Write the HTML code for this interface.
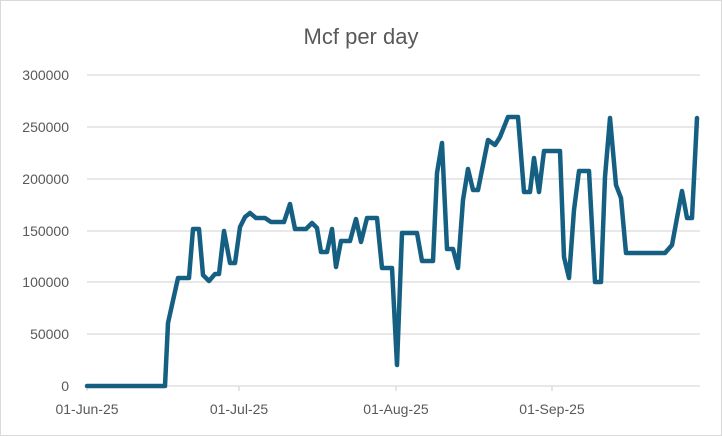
<!DOCTYPE html>
<html><head><meta charset="utf-8"><style>
body{margin:0;background:#fff}
svg{display:block}
text{font-family:"Liberation Sans",sans-serif;fill:#595959}
</style></head><body>
<svg width="722" height="436" viewBox="0 0 722 436">
<rect x="0.5" y="0.5" width="721" height="435" fill="#fff" stroke="#d9d9d9"/>
<text x="361" y="44" font-size="22" text-anchor="middle">Mcf per day</text>
<g stroke="#d9d9d9" stroke-width="1.3">
<line x1="87" x2="700" y1="75" y2="75"/><line x1="87" x2="700" y1="127" y2="127"/>
<line x1="87" x2="700" y1="179" y2="179"/><line x1="87" x2="700" y1="231" y2="231"/>
<line x1="87" x2="700" y1="282" y2="282"/><line x1="87" x2="700" y1="334" y2="334"/>
<line x1="87" x2="700" y1="386" y2="386"/>
<line x1="87" x2="87" y1="386" y2="391"/><line x1="239" x2="239" y1="386" y2="391"/>
<line x1="396" x2="396" y1="386" y2="391"/><line x1="552" x2="552" y1="386" y2="391"/>
</g>
<g font-size="14" text-anchor="end">
<text x="69" y="80">300000</text><text x="69" y="132">250000</text>
<text x="69" y="184">200000</text><text x="69" y="236">150000</text>
<text x="69" y="287">100000</text><text x="69" y="339">50000</text>
<text x="69" y="391">0</text>
</g>
<g font-size="14" text-anchor="middle">
<text x="87" y="414">01-Jun-25</text><text x="239" y="414">01-Jul-25</text>
<text x="396" y="414">01-Aug-25</text><text x="552" y="414">01-Sep-25</text>
</g>
<polyline fill="none" stroke="#156082" stroke-width="4.5" stroke-linejoin="round" stroke-linecap="round" points="87,386 165,386 168,323 178,278 189,278 193,229 199,229 203,275 209,281 215,274 219,274 224,231 230,263 235,263 240,227 245,217 250,213 256,218 265,218 271,222 284,222 290,204 295,229 306,229 312,223 317,228 321,252 327,252 332,229 336,267 341,241 350,241 356,219 361,242 367,218 377,218 382,268 392,268 397,365 402,233 417,233 422,261 433,261 437,173 442,143 447,249 453,249 458,268 463,200 468,169 473,190 478,190 488,140 495,145 500,137 508,117 518,117 524,192 530,192 534,158 539,192 544,151 560,151 564,257 569,278 574,210 579,171 589,171 595,282 601,282 605,177 610,118 616,185 621,198 626,253 665,253 672,245 682,191 687,218 692,218 697,118"/>
</svg>
</body></html>
